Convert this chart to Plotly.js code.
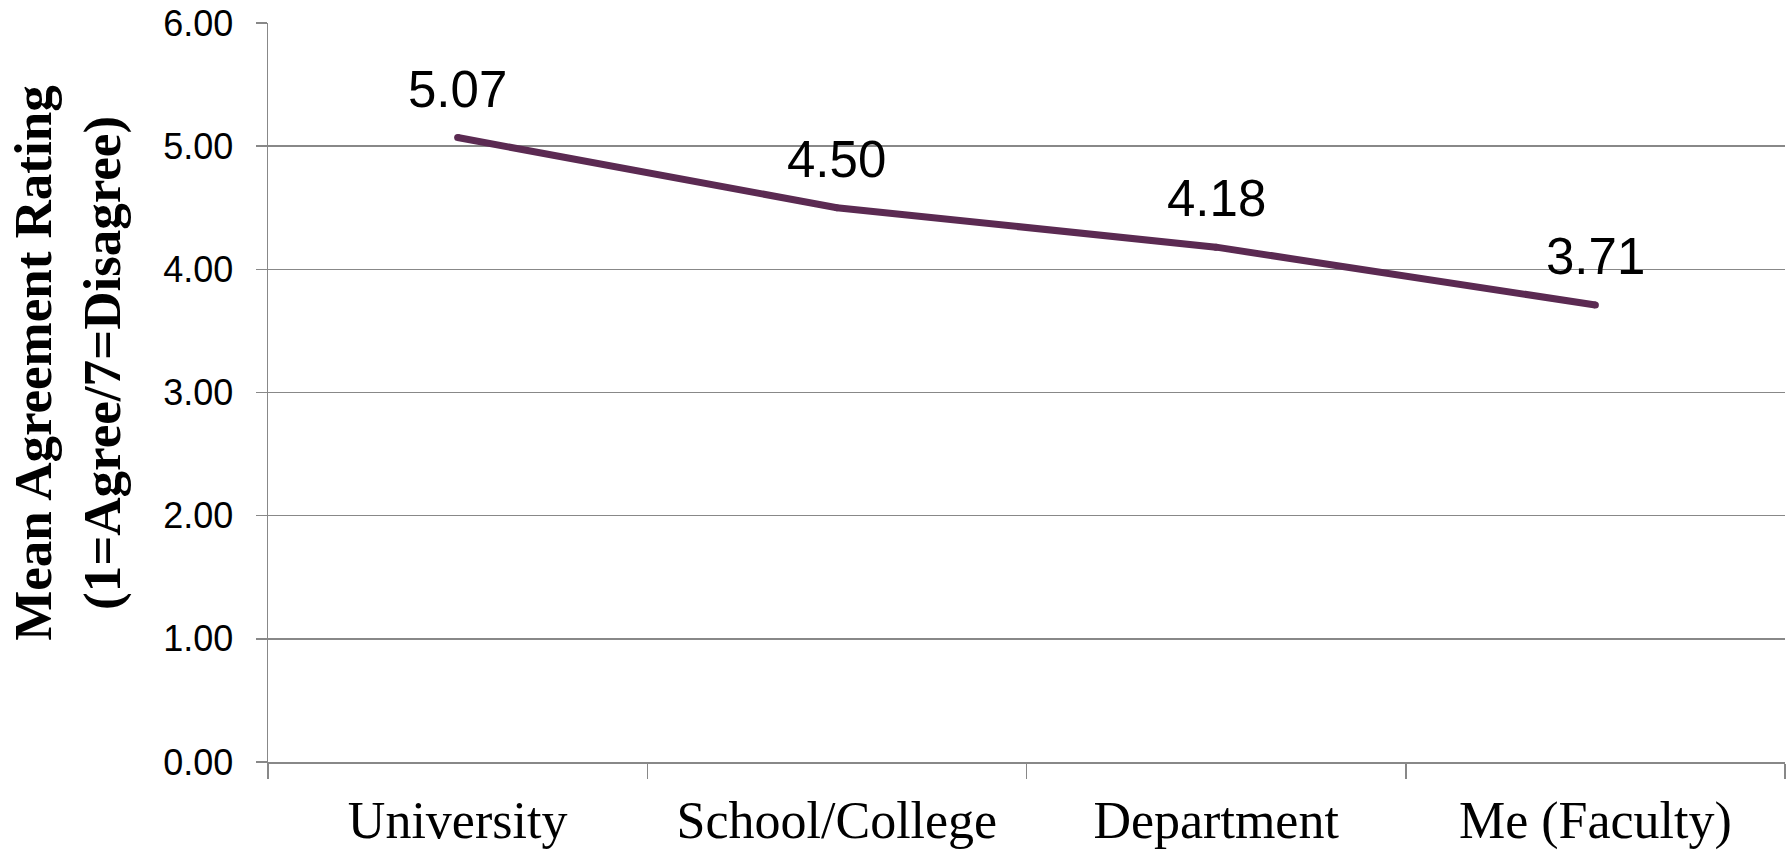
<!DOCTYPE html>
<html>
<head>
<meta charset="utf-8">
<script src="https://cdn.plot.ly/plotly-3.0.1.min.js"></script>
<style>html,body{margin:0;padding:0;background:#fff;}#chart{width:1792px;height:853px;}</style>
</head>
<body>
<div id="chart"></div>
<script>
const categories = ["University", "School/College", "Department", "Me (Faculty)"];
const meanRatings = [5.07, 4.50, 4.18, 3.71];
const yTickValues = [0, 1, 2, 3, 4, 5, 6];
const yTitleLines = ["Mean Agreement Rating", "(1=Agree/7=Disagree)"];

const gridColor = "#888888";
const lineColor = "#5b2a52";

const trace = {
  type: "scatter",
  mode: "lines+markers",
  x: categories,
  y: meanRatings,
  line: {color: lineColor, width: 7},
  marker: {color: lineColor, size: 7, line: {width: 0}},
  hoverinfo: "skip",
  showlegend: false
};

const labelAnnotations = categories.map((c, i) => ({
  x: c, y: meanRatings[i], xref: "x", yref: "y",
  text: meanRatings[i].toFixed(2),
  showarrow: false, xanchor: "center", yanchor: "bottom", yshift: 18,
  font: {family: "Liberation Sans, Arial, sans-serif", size: 51, color: "#000"}
}));

const titleAnnotation = {
  xref: "paper", yref: "paper", x: -0.132, y: 0.54,
  xanchor: "center", yanchor: "middle",
  text: yTitleLines.join("<br>"), textangle: -90, showarrow: false,
  font: {family: "Liberation Serif, Times New Roman, serif", size: 53, color: "#000", weight: "bold"}
};

const layout = {
  width: 1792, height: 853,
  margin: {l: 268, r: 7, t: 23, b: 91},
  paper_bgcolor: "#fff", plot_bgcolor: "#fff",
  font: {family: "Liberation Sans, Arial, sans-serif", color: "#000"},
  xaxis: {
    type: "category", range: [-0.5, 3.5],
    tickson: "boundaries", ticks: "outside", ticklen: 15, tickwidth: 1.5, tickcolor: gridColor,
    showline: true, linecolor: gridColor, linewidth: 1.5,
    showgrid: false, zeroline: false, ticklabelstandoff: 12,
    tickfont: {family: "Liberation Serif, Times New Roman, serif", size: 52, color: "#000"}
  },
  yaxis: {
    range: [0, 6], tickvals: yTickValues, tickformat: ".2f",
    ticks: "outside", ticklen: 11, tickwidth: 1.5, tickcolor: gridColor,
    showline: true, linecolor: gridColor, linewidth: 1.5,
    showgrid: true, gridcolor: gridColor, gridwidth: 1.5, zeroline: false,
    ticklabelstandoff: 15,
    tickfont: {family: "Liberation Sans, Arial, sans-serif", size: 36, color: "#000"}
  },
  annotations: labelAnnotations.concat([titleAnnotation])
};

Plotly.newPlot("chart", [trace], layout, {displayModeBar: false, staticPlot: true});
</script>
</body>
</html>
